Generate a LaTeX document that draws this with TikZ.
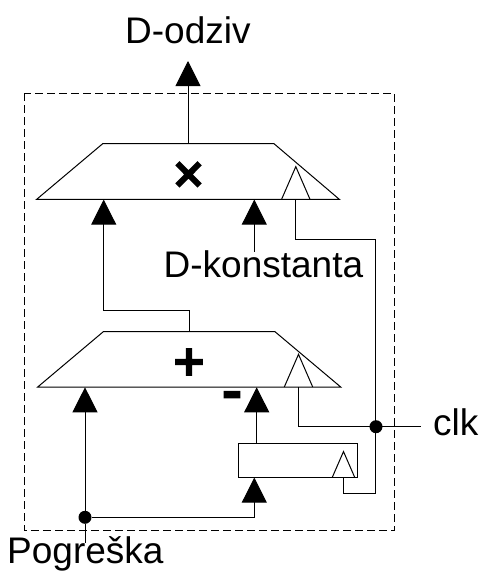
\documentclass[tikz,border=0pt]{standalone}
\usepackage{fontspec}
\setmainfont{Liberation Sans}
\newfontfamily\signfont[FakeBold=7]{DejaVu Sans}
\usetikzlibrary{arrows.meta}
\tikzset{
    wire/.style={line width=1pt, -},
    sig/.style={line width=1pt, -{Triangle[length=25pt,width=25pt]}},
    reg/.style={draw, line width=1pt, minimum width=118.7pt, minimum height=34pt, inner sep=0pt},
    dot/.style={circle, fill=black, minimum size=13pt, inner sep=0pt},
    lab/.style={font=\fontsize{37}{40}\selectfont, inner sep=0pt, anchor=base west},
    opsign/.style={font=\signfont\fontsize{#1}{#1}\selectfont, inner sep=0pt}
}
\begin{document}
\begin{tikzpicture}[x=1pt, y=-1pt]
    \useasboundingbox (0,0) rectangle (480,576);

    % Okvir
    \draw[line width=1pt, dash pattern=on 8pt off 4pt] (24.5,93) rectangle (394,530.5);

    % Sklopovi
    \draw[line width=1pt] (36.7,199.3) -- (102.7,143.7) -- (188,143.7) coordinate (mulTop) -- (274,143.7) -- (339.3,199.3) -- cycle;
    \draw[line width=1pt] (37.7,387) -- (103.3,331.7) -- (189.3,331.7) coordinate (addTop) -- (275,331.7) -- (340.7,387) -- cycle;
    \node[reg] (delay) at (298.3,460.3) {};

    % Trokuti za takt
    \foreach \n/\x/\y/\w in {mul/295.8/199.3/14.2, add/298.5/387/14.2, delay/343.5/477.3/11.2}{
        \coordinate (\n clk) at (\x,\y);
        \draw[line width=1pt] (\x-\w,\y) -- (\x,{\y-\w*2.3}) -- (\x+\w,\y);
    }

    % Oznake
    \node[opsign=40] (times) at (188.5,175) {×};
    \node[opsign=40] (plus) at (189,362) {+};
    \node[opsign=50] (minus) at (232,400.5) {-};
    \node[lab] (odziv) at (125,43) {D-odziv};
    \node[lab] (konst) at (163.5,277.7) {D-konstanta};
    \node[lab] (clklab) at (433,435.7) {clk};
    \node[lab] (pogr) at (7,563) {Pogreška};

    % Tocke
    \node[dot] (tclk) at (376,426.7) {};
    \node[dot] (tpog) at (85,517.3) {};

    % Ulazi i izlazi
    \coordinate (mulA) at (103.7,199.6);
    \coordinate (mulB) at (254.3,199.6);
    \coordinate (addA) at (85,387.3);
    \coordinate (addB) at (256.7,387.3);
    \coordinate (regIn) at (254.3,477.6);
    \coordinate (mulOut) at (188,61);
    \coordinate (konstTop) at (254.3,251.7);
    \coordinate (pogrTop) at (85,543);
    \coordinate (clkEnd) at (421,426.7);

    % Veze
    \draw[sig] (mulTop) -- (mulOut);
    \draw[sig] (addTop) -- (189.3,310.7) -| (mulA);
    \draw[sig] (konstTop) -- (mulB);
    \draw[sig] (tpog) -- (addA);
    \draw[sig] (delay.north -| addB) -- (addB);
    \draw[sig] (tpog) -| (regIn);
    \draw[wire] (tpog) -- (pogrTop);
    \draw[wire] (addclk) |- (clkEnd);
    \draw[wire] (mulclk) |- (375.7,239) -- (375.7,493.3) -| (delayclk);
\end{tikzpicture}
\end{document}
